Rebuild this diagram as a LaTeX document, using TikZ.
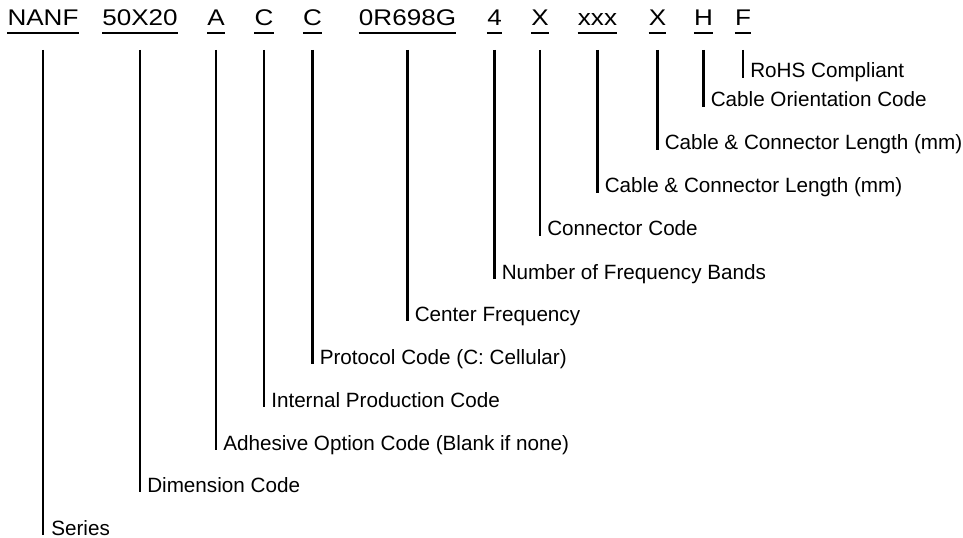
\documentclass[tikz,border=0pt]{standalone}
\usepackage{fontspec}
\setmainfont{Liberation Sans}
\newfontfamily\codefont[FakeStretch=1.15]{Liberation Sans}
\usetikzlibrary{positioning}

\begin{document}
\begin{tikzpicture}[x=0.75pt, y=-0.75pt,
  code/.style={font=\codefont\fontsize{17}{20}\selectfont, inner sep=0pt, anchor=base},
  lbl/.style={font=\fontsize{15.5}{18}\selectfont, inner sep=0pt, anchor=base west},
  bar/.style={line width=2.2pt},
  uline/.style={line width=1.4pt}]
  \useasboundingbox (0,0) rectangle (963,538);
  % part number fields
  \node[code] (series_c) at (43,26) {NANF};
  \node[code] (dim_c) at (140,26) {50X20};
  \node[code] (adh_c) at (216,26) {A};
  \node[code] (prod_c) at (264,26) {C};
  \node[code] (proto_c) at (312.5,26) {C};
  \node[code] (freq_c) at (407.5,26) {0R698G};
  \node[code] (bands_c) at (494.5,26) {4};
  \node[code] (conn_c) at (540,26) {X};
  \node[code] (lenA_c) at (597.5,26) {xxx};
  \node[code] (lenB_c) at (657.5,26) {X};
  \node[code] (orient_c) at (703.5,26) {H};
  \node[code] (rohs_c) at (743,26) {F};
  % descriptions
  \node[lbl] (series) at (51,535) {Series};
  \node[lbl] (dim) at (147,492) {Dimension Code};
  \node[lbl] (adh) at (223,450) {Adhesive Option Code (Blank if none)};
  \node[lbl] (prod) at (271,407) {Internal Production Code};
  \node[lbl] (proto) at (319.5,364) {Protocol Code (C: Cellular)};
  \node[lbl] (freq) at (414.5,321) {Center Frequency};
  \node[lbl] (bands) at (501.5,279) {Number of Frequency Bands};
  \node[lbl] (conn) at (547,236) {Connector Code};
  \node[lbl] (lenA) at (604.5,193) {Cable \& Connector Length (mm)};
  \node[lbl] (lenB) at (664.5,150) {Cable \& Connector Length (mm)};
  \node[lbl] (orient) at (710.5,107) {Cable Orientation Code};
  \node[lbl] (rohs) at (750,78) {RoHS Compliant};
  % underlines and bars
  \foreach \f in {series,dim,adh,prod,proto,freq,bands,conn,lenA,lenB,orient,rohs}{
    \draw[uline] ([yshift=-5.2pt]\f_c.base west) -- ([yshift=-5.2pt]\f_c.base east);
    \draw[bar] ([yshift=-18pt]\f_c.base) -- (\f_c.base |- \f.base);
  }
\end{tikzpicture}
\end{document}
